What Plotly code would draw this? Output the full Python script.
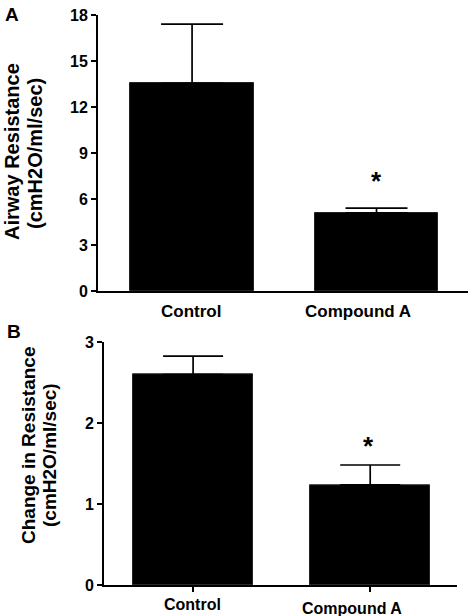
import plotly.graph_objects as go

categories = ["Control", "Compound A"]
airway_mean = [13.55, 5.1]
airway_err = [3.85, 0.3]
change_mean = [2.6, 1.24]
change_err = [0.23, 0.245]
airway_ticks = [0, 3, 6, 9, 12, 15, 18]
change_ticks = [0, 1, 2, 3]
star_top = 7.2
star_bottom = 1.72

W, H = 470, 616
FONT = "Liberation Sans, Arial, sans-serif"

def px(x):
    return x / W

def py(y):
    return 1 - y / H

fig = go.Figure()

fig.add_trace(go.Bar(
    x=categories, y=airway_mean, xaxis="x", yaxis="y",
    marker=dict(color="black", line=dict(color="#222", width=1)),
    width=0.67,
    error_y=dict(type="data", symmetric=False, array=airway_err,
                 arrayminus=[0, 0], color="black", thickness=1.7, width=31),
    showlegend=False,
))
fig.add_trace(go.Bar(
    x=categories, y=change_mean, xaxis="x2", yaxis="y2",
    marker=dict(color="black", line=dict(color="#222", width=1)),
    width=0.68,
    error_y=dict(type="data", symmetric=False, array=change_err,
                 arrayminus=[0, 0], color="black", thickness=1.7, width=30),
    showlegend=False,
))

axis_common = dict(showline=True, linecolor="black", linewidth=1.8,
                   showgrid=False, zeroline=False, automargin=False,
                   tickfont=dict(family=FONT, size=16, color="black", weight="bold"))

fig.update_layout(
    width=W, height=H,
    margin=dict(l=0, r=0, t=0, b=0, autoexpand=False),
    paper_bgcolor="white", plot_bgcolor="white",
    font=dict(family=FONT, color="black"),
    bargap=0,
    xaxis=dict(domain=[px(98), px(468)], anchor="y", range=[-0.51, 1.496],
               showline=True, linecolor="black", linewidth=1.8, showgrid=False,
               zeroline=False, ticks="", showticklabels=False, automargin=False),
    yaxis=dict(domain=[py(291), py(15)], anchor="x", range=[0, 18],
               tickvals=airway_ticks, ticks="outside", ticklen=5, tickwidth=1.8,
               tickcolor="black", **axis_common),
    xaxis2=dict(domain=[px(104), px(457)], anchor="y2", range=[-0.503, 1.49],
                showline=True, linecolor="black", linewidth=1.8, showgrid=False,
                zeroline=False, ticks="outside", ticklen=5, tickwidth=1.8,
                tickcolor="black", showticklabels=False, automargin=False),
    yaxis2=dict(domain=[py(585.3), py(342.3)], anchor="x2", range=[0, 3],
                tickvals=change_ticks, ticks="outside", ticklen=5, tickwidth=1.8,
                tickcolor="black", **axis_common),
)

ann_font = dict(family=FONT, color="black", weight="bold")

# Category labels (placed as in the original, slightly off-centre)
top_label_shift = [-1, -19]
bottom_label_shift = [-1, -18]
bottom_label_y = [604, 608]
for i, cat in enumerate(categories):
    fig.add_annotation(text=cat, x=cat, y=py(311), xref="x", yref="paper",
                       xshift=top_label_shift[i], yanchor="middle",
                       showarrow=False, font=dict(size=17, **ann_font))
    fig.add_annotation(text=cat, x=cat, y=py(bottom_label_y[i]), xref="x2",
                       yref="paper", xshift=bottom_label_shift[i],
                       yanchor="middle", showarrow=False,
                       font=dict(size=16, **ann_font))

# Panel letters
fig.add_annotation(text="A", x=px(3), y=py(2), xref="paper", yref="paper",
                   xanchor="left", yanchor="top", showarrow=False,
                   font=dict(size=19, **ann_font))
fig.add_annotation(text="B", x=px(5), y=py(319), xref="paper", yref="paper",
                   xanchor="left", yanchor="top", showarrow=False,
                   font=dict(size=19, **ann_font))

# Y titles (two separate lines for tight line spacing)
title_lines = [
    ("Airway Resistance", 12, 152, 20),
    ("(cmH2O/ml/sec)", 35, 154, 20),
    ("Change in Resistance", 28, 446, 19),
    ("(cmH2O/ml/sec)", 49, 455, 19),
]
for text, xc, yc, size in title_lines:
    fig.add_annotation(text=text, textangle=-90, x=px(xc), y=py(yc),
                       xref="paper", yref="paper", xanchor="center",
                       yanchor="middle", showarrow=False,
                       font=dict(size=size, **ann_font))

# Significance stars
fig.add_annotation(text="*", x=categories[1], y=star_top, xref="x", yref="y",
                   showarrow=False, yanchor="middle",
                   font=dict(size=26, **ann_font))
fig.add_annotation(text="*", x=categories[1], y=star_bottom, xref="x2",
                   yref="y2", xshift=-2, showarrow=False, yanchor="middle",
                   font=dict(size=26, **ann_font))

fig.write_html(
    "out.html",
    config={"displayModeBar": False},
    post_script="document.body.style.margin='0';document.body.style.overflow='hidden';",
)
